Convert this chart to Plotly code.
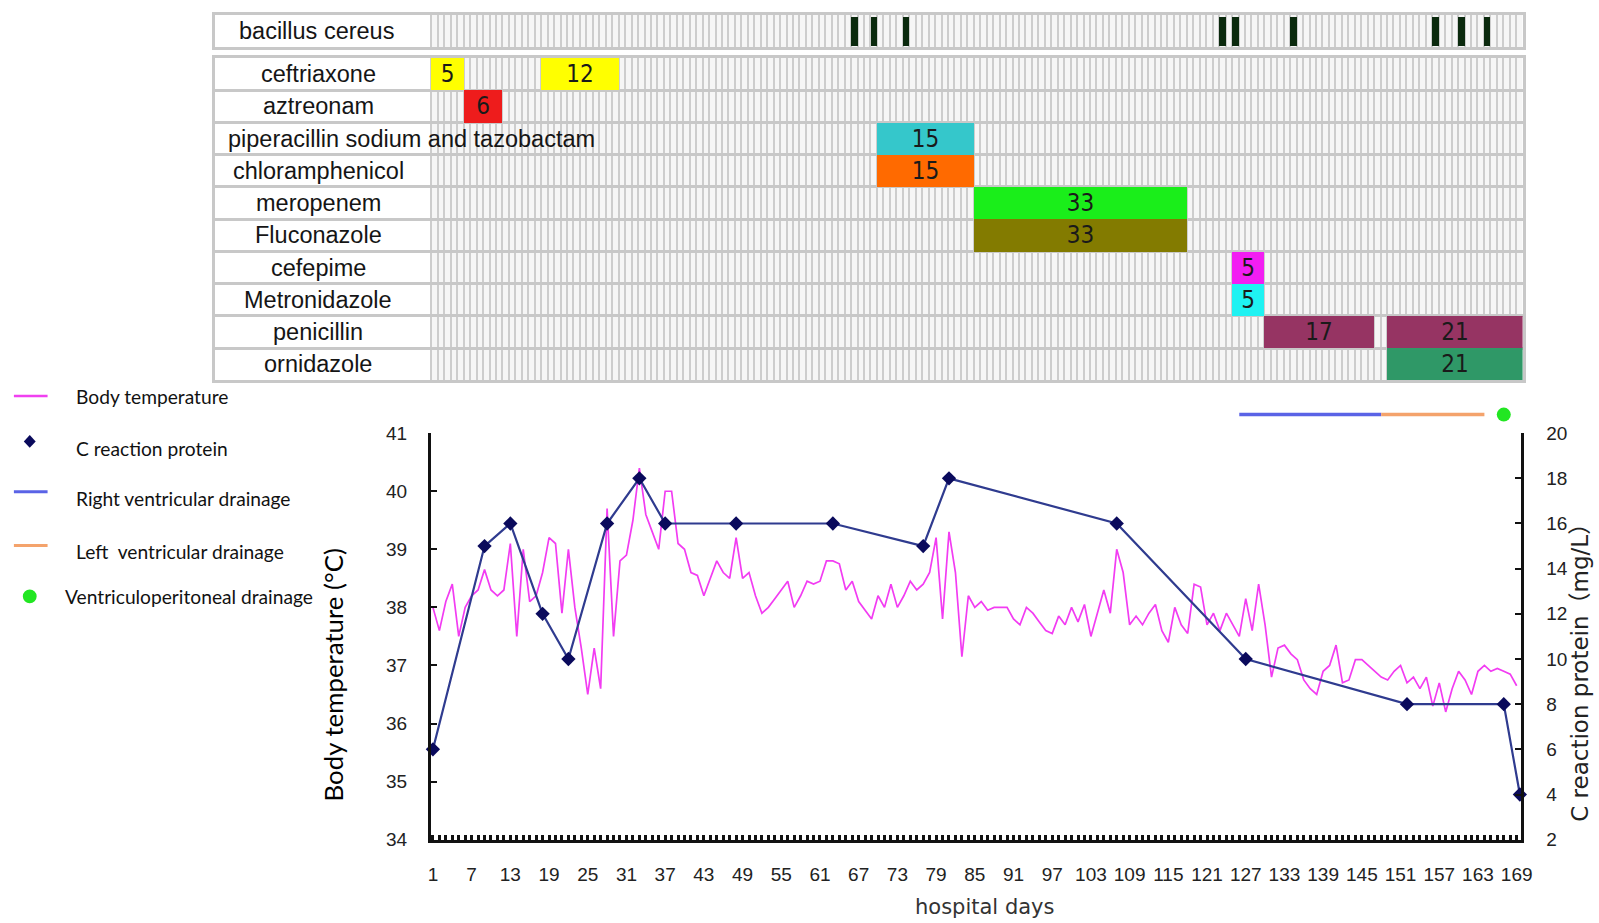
import plotly.graph_objects as go

W, H = 1599, 923


def fx(p):
    return p / W


def fy(p):
    return 1 - p / H


# ------------------------------------------------------------------ data
row_labels = ["ceftriaxone", "aztreonam", "piperacillin sodium and tazobactam",
              "chloramphenicol", "meropenem", "Fluconazole", "cefepime",
              "Metronidazole", "penicillin", "ornidazole"]

course_drug = ["ceftriaxone", "ceftriaxone", "aztreonam",
               "piperacillin sodium and tazobactam", "chloramphenicol",
               "meropenem", "Fluconazole", "cefepime", "Metronidazole",
               "penicillin", "penicillin", "ornidazole"]
course_start = [1, 18, 6, 70, 70, 85, 85, 125, 125, 130, 149, 149]
course_days = [5, 12, 6, 15, 15, 33, 33, 5, 5, 17, 21, 21]
course_color = ["#ffff00", "#ffff00", "#ee1c1c", "#35c7cb", "#ff6a00",
                "#1aee1a", "#837b00", "#f21ef2", "#1ff2f2", "#963463",
                "#963463", "#2f9867"]

bacillus_days = [66, 69, 74, 123, 125, 134, 156, 160, 164]

days = list(range(1, 170))
temperature = [
    38.0, 37.6, 38.1, 38.4, 37.5, 38.0, 38.2, 38.3, 38.65, 38.3,
    38.2, 38.3, 39.1, 37.5, 39.0, 38.1, 38.2, 38.6, 39.2, 39.1,
    37.9, 39.0, 38.0, 37.3, 36.5, 37.3, 36.6, 39.7, 37.5, 38.8,
    38.9, 39.5, 40.4, 39.6, 39.3, 39.0, 40.0, 40.0, 39.1, 39.0,
    38.6, 38.55, 38.2, 38.5, 38.8, 38.6, 38.5, 39.2, 38.5, 38.6,
    38.2, 37.9, 38.0, 38.15,
    38.3, 38.45, 38.0, 38.2, 38.45, 38.4, 38.45, 38.8, 38.8, 38.75,
    38.3, 38.45, 38.1, 37.95, 37.8, 38.2, 38.0, 38.4, 38.0, 38.2,
    38.45, 38.3, 38.4, 38.6, 39.2, 37.8, 39.3, 38.6, 37.15, 38.2,
    38.0, 38.1, 37.95, 38.0, 38.0, 38.0, 37.8, 37.7, 38.0, 37.9,
    37.75, 37.6, 37.55, 37.85, 37.7, 38.0, 37.75, 38.05, 37.5, 37.9,
    38.3, 37.9, 39.0, 38.6, 37.7, 37.85,
    37.7, 37.9, 38.05, 37.6, 37.4, 38.0, 37.7, 37.55, 38.4, 38.35,
    37.7, 37.9, 37.6, 37.9, 37.7, 37.5, 38.15, 37.6, 38.4, 37.7,
    36.8, 37.3, 37.35, 37.2, 37.1, 36.75, 36.6, 36.5, 36.9, 37.0,
    37.35, 36.7, 36.75, 37.1, 37.1, 37.0, 36.9, 36.8, 36.75, 36.9,
    37.0, 36.7, 36.8, 36.6, 36.8, 36.3, 36.7, 36.2, 36.6, 36.9,
    36.75, 36.5, 36.9, 37.0, 36.9, 36.95, 36.9, 36.85, 36.65,
]

crp_days = [1, 9, 13, 18, 22, 28, 33, 37, 48, 63, 77, 81, 107, 127, 152, 167, 169.5]
crp_values = [6, 15, 16, 12, 10, 16, 18, 16, 16, 16, 15, 18, 16, 10, 8, 8, 4]

right_drain_days = [126, 148]
left_drain_days = [148, 164]
vp_drain_day = [167]

temp_ticks = list(range(34, 42))
crp_ticks = list(range(2, 21, 2))
day_ticks = list(range(1, 170, 6))

# ------------------------------------------------------------------ geometry (page pixels)
TBL_L, GRID_L, GRID_R = 214, 432.5, 1534
DAY_PX = (GRID_R - GRID_L) / 169.0
LABEL_SPAN = (GRID_L - TBL_L) / DAY_PX
PLOT_L, PLOT_R, PLOT_T, PLOT_B = 432, 1532, 433, 849
D1_PX, D169_PX = 434, 1528
PDAY = (D169_PX - D1_PX) / 168.0
X0 = 1 - (D1_PX - PLOT_L) / PDAY
X1 = 169 + (PLOT_R - D169_PX) / PDAY

fig = go.Figure()

# ---- drug table bars
row_idx = [row_labels.index(d) for d in course_drug]
fig.add_trace(go.Bar(
    orientation="h", y=row_idx, x=course_days, base=[s - 1 for s in course_start],
    width=1, marker=dict(color=course_color, line=dict(width=0)),
    text=[str(d) for d in course_days], textposition="inside",
    insidetextanchor="middle", textangle=0, constraintext="none",
    textfont=dict(family="Liberation Sans Narrow, DejaVu Sans Condensed, Liberation Sans",
                  size=24, color="#1a1a1a"),
    xaxis="x2", yaxis="y3", showlegend=False, hoverinfo="skip"))

# ---- bacillus cereus marks
fig.add_trace(go.Bar(
    orientation="h", y=[0] * len(bacillus_days), x=[1] * len(bacillus_days),
    base=[d - 1 for d in bacillus_days], width=0.9,
    marker=dict(color="#0b2a0e", line=dict(width=0)),
    xaxis="x3", yaxis="y4", showlegend=False, hoverinfo="skip"))

# ---- temperature
fig.add_trace(go.Scatter(
    x=days, y=temperature, mode="lines", line=dict(color="#f23cf2", width=1.7),
    name="Body temperature", xaxis="x", yaxis="y", showlegend=False))

# ---- CRP
fig.add_trace(go.Scatter(
    x=crp_days, y=crp_values, mode="lines+markers",
    line=dict(color="#2f3b8f", width=2.2),
    marker=dict(symbol="diamond", size=11, color="#0a0a5c"),
    name="C reaction protein", xaxis="x", yaxis="y2", showlegend=False,
    cliponaxis=False))

# ---- drainage
fig.add_trace(go.Scatter(
    x=right_drain_days, y=["drain"] * 2, mode="lines",
    line=dict(color="#5a63e6", width=3.5), xaxis="x4", yaxis="y5",
    showlegend=False, name="Right ventricular drainage"))
fig.add_trace(go.Scatter(
    x=left_drain_days, y=["drain"] * 2, mode="lines",
    line=dict(color="#f4a36c", width=3.5), xaxis="x4", yaxis="y5",
    showlegend=False, name="Left ventricular drainage"))
fig.add_trace(go.Scatter(
    x=vp_drain_day, y=["drain"], mode="markers",
    marker=dict(color="#22e622", size=14, symbol="circle"), xaxis="x4", yaxis="y5",
    showlegend=False, name="Ventriculoperitoneal drainage", cliponaxis=False))

tickfont = dict(family="Liberation Sans", size=19, color="#222")
border = "#c8c8c8"
stripe = "#cdcdcd"

fig.update_layout(
    width=W, height=H, autosize=False,
    margin=dict(l=0, r=0, t=0, b=0),
    paper_bgcolor="white", plot_bgcolor="white",
    bargap=0, barmode="overlay",
    hovermode=False,
    # main chart
    xaxis=dict(domain=[fx(PLOT_L), fx(PLOT_R)], range=[X0, X1],
               tickmode="array", tickvals=day_ticks, ticktext=[str(t) for t in day_ticks],
               ticks="inside", ticklen=5, tickwidth=2.5, tickcolor="#111",
               minor=dict(tick0=1, dtick=1, ticks="inside", ticklen=5,
                          tickwidth=2.5, tickcolor="#111"),
               showline=True, linecolor="#111", linewidth=3,
               showgrid=False, zeroline=False, tickfont=tickfont,
               ticklabelstandoff=16, anchor="y"),
    yaxis=dict(domain=[fy(PLOT_B), fy(PLOT_T)], range=[34, 41],
               tickmode="array", tickvals=temp_ticks,
               ticks="inside", ticklen=6, tickwidth=2, tickcolor="#111",
               showline=True, linecolor="#111", linewidth=3,
               showgrid=False, zeroline=False, tickfont=tickfont,
               ticklabelstandoff=17, anchor="x"),
    yaxis2=dict(overlaying="y", side="right", range=[2, 20],
                tickmode="array", tickvals=crp_ticks,
                ticks="inside", ticklen=6, tickwidth=2, tickcolor="#111",
                showline=True, linecolor="#111", linewidth=2.5,
                showgrid=False, zeroline=False, tickfont=tickfont,
                ticklabelstandoff=19, anchor="x"),
    # drug table
    xaxis2=dict(domain=[fx(TBL_L), fx(GRID_R)], range=[-LABEL_SPAN, 169],
                tickmode="array", tickvals=list(range(0, 170)),
                showgrid=True, gridcolor=stripe, gridwidth=2,
                showticklabels=False, ticks="", zeroline=False,
                showline=True, mirror=True, linecolor=border, linewidth=3,
                anchor="y3"),
    yaxis3=dict(domain=[fy(379), fy(49)], range=[len(row_labels) - 0.5, -0.5],
                tickmode="array", tickvals=[i + 0.5 for i in range(len(row_labels) - 1)],
                showgrid=True, gridcolor=border, gridwidth=3,
                showticklabels=False, ticks="", zeroline=False,
                showline=True, mirror=True, linecolor=border, linewidth=3,
                anchor="x2"),
    # bacillus row
    xaxis3=dict(domain=[fx(TBL_L), fx(GRID_R)], range=[-LABEL_SPAN, 169],
                tickmode="array", tickvals=list(range(0, 170)),
                showgrid=True, gridcolor=stripe, gridwidth=2,
                showticklabels=False, ticks="", zeroline=False,
                showline=True, mirror=True, linecolor=border, linewidth=3,
                anchor="y4"),
    yaxis4=dict(domain=[fy(38), fy(5)], range=[0.5, -0.5],
                showgrid=False, showticklabels=False, ticks="", zeroline=False,
                showline=True, mirror=True, linecolor=border, linewidth=3,
                anchor="x3"),
    # drainage band
    xaxis4=dict(domain=[fx(PLOT_L), fx(PLOT_R)], range=[X0, X1], visible=False,
                anchor="y5"),
    yaxis5=dict(domain=[fy(425), fy(403)], type="category", visible=False,
                anchor="x4"),
)

shapes = [
    dict(type="rect", xref="x2", yref="y3", x0=0, x1=169, y0=-0.5,
         y1=len(row_labels) - 0.5, fillcolor="#f6f6f6", line=dict(width=0), layer="below"),
    dict(type="rect", xref="x3", yref="y4", x0=0, x1=169, y0=-0.5, y1=0.5,
         fillcolor="#f6f6f6", line=dict(width=0), layer="below"),
    # legend symbols
    dict(type="line", xref="paper", yref="paper", x0=fx(11), x1=fx(45),
         y0=fy(395), y1=fy(395), line=dict(color="#f040f0", width=2.5)),
    dict(type="path", xref="paper", yref="paper",
         path=f"M {fx(27)},{fy(435)} L {fx(33)},{fy(441.5)} L {fx(27)},{fy(448)} "
              f"L {fx(21)},{fy(441.5)} Z",
         fillcolor="#0a0a5c", line=dict(width=0)),
    dict(type="line", xref="paper", yref="paper", x0=fx(11), x1=fx(45),
         y0=fy(493), y1=fy(493), line=dict(color="#5a63e6", width=3)),
    dict(type="line", xref="paper", yref="paper", x0=fx(11), x1=fx(45),
         y0=fy(548), y1=fy(548), line=dict(color="#f4a36c", width=3)),
    dict(type="circle", xref="paper", yref="paper", x0=fx(20), x1=fx(34),
         y0=fy(607), y1=fy(593), fillcolor="#22e622", line=dict(width=0)),
]
fig.update_layout(shapes=shapes)

label_font = dict(family="Liberation Sans, Arial", size=23.5, color="#151515")
annotations = []
for i, name in enumerate(row_labels):
    if name.startswith("piperacillin"):
        annotations.append(dict(x=fx(225), xref="paper", y=i, yref="y3", text=name,
                                xanchor="left", yanchor="middle", showarrow=False,
                                font=label_font))
    else:
        annotations.append(dict(x=fx(318), xref="paper", y=i, yref="y3", text=name,
                                xanchor="center", yanchor="middle", showarrow=False,
                                font=label_font))
annotations.append(dict(x=fx(316), xref="paper", y=0, yref="y4", text="bacillus cereus",
                        xanchor="center", yanchor="middle", showarrow=False,
                        font=label_font))

leg_font = dict(family="Lato, Open Sans, sans-serif", size=19.2, color="#111")
legend_items = [("Body temperature", 72, 395), ("C reaction protein", 72, 449),
                ("Right ventricular drainage", 72, 500), ("Left  ventricular drainage", 72, 554),
                ("Ventriculoperitoneal drainage", 61, 600)]
for text, x, y in legend_items:
    annotations.append(dict(x=fx(x), y=fy(y), xref="paper", yref="paper", text=text,
                            xanchor="left", yanchor="middle", showarrow=False,
                            font=leg_font))

annotations.append(dict(x=fx(333), y=fy(680), xref="paper", yref="paper",
                        text="Body temperature (°C)", textangle=-90,
                        xanchor="center", yanchor="middle", showarrow=False,
                        font=dict(family="Lato, Open Sans, sans-serif", size=25.8, color="#000")))
annotations.append(dict(x=fx(1592), y=fy(672), xref="paper", yref="paper",
                        text="C reaction protein（mg/L）", textangle=-90,
                        xanchor="center", yanchor="middle", showarrow=False,
                        font=dict(family="DejaVu Sans, Noto Sans CJK SC", size=23,
                                  color="#222")))
annotations.append(dict(x=fx(991), y=fy(918), xref="paper", yref="paper",
                        text="hospital days", xanchor="center", yanchor="middle",
                        showarrow=False,
                        font=dict(family="DejaVu Sans", size=21, color="#333")))
fig.update_layout(annotations=annotations)

fig.write_html("out.html", config={"displayModeBar": False},
               post_script="document.body.style.margin='0';document.body.style.overflow='hidden';")
